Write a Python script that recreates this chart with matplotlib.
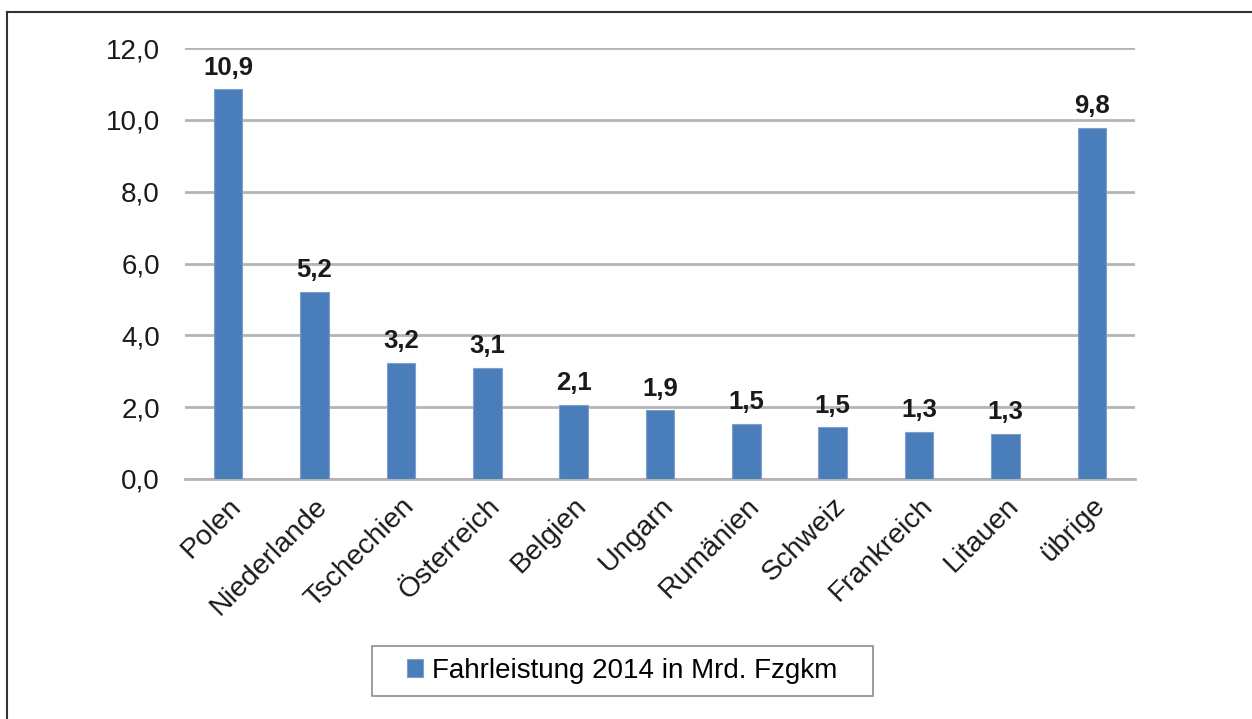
import matplotlib.pyplot as plt
from matplotlib.lines import Line2D
from matplotlib.patches import Rectangle

plt.rcParams['font.family'] = ['Liberation Sans', 'DejaVu Sans']

# Daten
laender = ['Polen', 'Niederlande', 'Tschechien', 'Österreich', 'Belgien', 'Ungarn',
           'Rumänien', 'Schweiz', 'Frankreich', 'Litauen', 'übrige']
fahrleistung = [10.85, 5.22, 3.24, 3.10, 2.07, 1.91, 1.54, 1.44, 1.32, 1.26, 9.77]
werte_text = ['10,9', '5,2', '3,2', '3,1', '2,1', '1,9', '1,5', '1,5', '1,3', '1,3', '9,8']
y_ticks = [0, 2, 4, 6, 8, 10, 12]
serie = 'Fahrleistung 2014 in Mrd. Fzgkm'

W, H = 1252, 719
fig = plt.figure(figsize=(W / 100, H / 100), dpi=100)
ax = fig.add_axes([185 / W, 240 / H, 950 / W, 431 / H])

x = range(len(laender))
bars = ax.bar(x, fahrleistung, width=0.33, color='#4a7ebb', edgecolor='#7f9fc8',
              linewidth=0.8, label=serie, zorder=3)

# Werte über den Balken
for rect, txt in zip(bars, werte_text):
    ax.annotate(txt, (rect.get_x() + rect.get_width() / 2, rect.get_height()),
                xytext=(0, 7), textcoords='offset points', ha='center', va='bottom',
                fontsize=18.5, fontweight='bold', color='#1a1a1a')

ax.set_xlim(-0.5, len(laender) - 0.5)
ax.set_ylim(0, 12)
ax.set_yticks(y_ticks)
ax.set_yticklabels([f'{v:.1f}'.replace('.', ',') for v in y_ticks], fontsize=20, color='#1a1a1a')
ax.set_xticks(list(x))
ax.set_xticklabels(laender, rotation=45, ha='right', rotation_mode='anchor',
                   fontsize=20.5, color='#1a1a1a')
ax.tick_params(axis='both', length=0)
ax.tick_params(axis='y', pad=18)
ax.tick_params(axis='x', pad=10)

ax.grid(axis='y', color='#b4b4b4', linewidth=2, zorder=0)
for s in ['top', 'right', 'left']:
    ax.spines[s].set_visible(False)
ax.spines['bottom'].set_color('#b4b4b4')
ax.spines['bottom'].set_linewidth(2)

# Legende (Rahmen separat)
fig.legend(loc='center', bbox_to_anchor=(622 / W, 1 - 671 / H), fontsize=20,
           frameon=False, handlelength=0.6, handleheight=0.6,
           handletextpad=0.3, borderaxespad=0)
fig.add_artist(Rectangle((372 / W, 1 - 696 / H), 501 / W, 50 / H, transform=fig.transFigure,
                         fill=False, edgecolor='#8c8c8c', linewidth=1.2))

# Rahmen oben und links
fig.add_artist(Line2D([7 / W, 1], [1 - 12 / H, 1 - 12 / H], color='#333333', linewidth=1.5))
fig.add_artist(Line2D([7 / W, 7 / W], [0, 1 - 12 / H], color='#333333', linewidth=1.5))

plt.savefig('out.png', dpi=100)
